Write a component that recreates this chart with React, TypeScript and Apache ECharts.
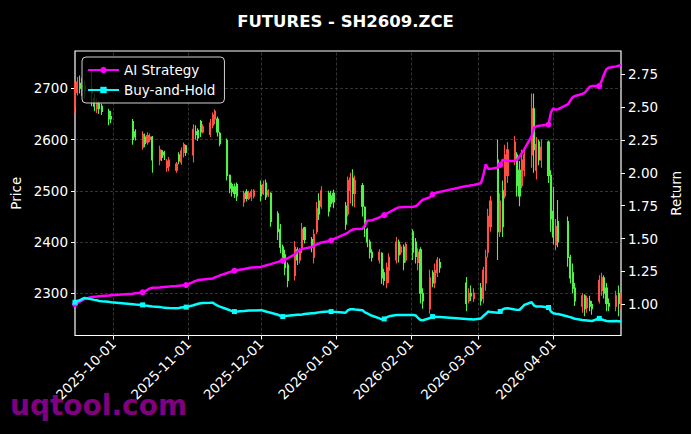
import React, { useEffect, useRef } from "react";
import * as echarts from "echarts";

// ---- trading calendar (day numbers per month) ----
const SEP_2025 = [15, 16, 17, 18, 19, 22, 23, 24, 25, 26, 29, 30];
const OCT_2025 = [9, 10, 13, 14, 15, 16, 17, 20, 21, 22, 23, 24, 27, 28, 29, 30, 31];
const NOV_2025 = [3, 4, 5, 6, 7, 10, 11, 12, 13, 14, 17, 18, 19, 20, 21, 24, 25, 26, 27, 28];
const DEC_2025 = [1, 2, 3, 4, 5, 8, 9, 10, 11, 12, 15, 16, 17, 18, 19, 22, 23, 24, 25, 26, 29, 30, 31];
const JAN_2026 = [5, 6, 7, 8, 9, 12, 13, 14, 15, 16, 19, 20, 21, 22, 23, 26, 27, 28, 29, 30];
const FEB_2026 = [2, 3, 4, 5, 6, 9, 10, 11, 12, 13, 24, 25, 26, 27];
const MAR_2026 = [2, 3, 4, 5, 6, 9, 10, 11, 12, 13, 16, 17, 18, 19, 20, 23, 24, 25, 26, 27, 30, 31];
const APR_2026 = [1, 2, 3, 7, 8, 9, 10, 13, 14, 15, 16, 17, 20, 21, 22, 23, 24, 27, 28, 29];

// ---- OHLC ----
const OPEN = [
  2665, 2692, 2710, 2700, 2705, 2700, 2680, 2660, 2670, 2665, 2655, 2645,
  2635, 2615, 2585, 2605, 2595, 2600, 2605, 2560, 2578, 2575, 2545, 2548, 2540, 2570, 2556, 2575, 2588,
  2570, 2615, 2618, 2635, 2615, 2610, 2628, 2640, 2640, 2612, 2598, 2530, 2512, 2508, 2512, 2478, 2498, 2485, 2488, 2490,
  2510, 2495, 2515, 2492, 2495, 2455, 2425, 2390, 2375, 2355, 2335, 2385, 2365, 2385, 2428, 2405, 2370, 2420, 2480, 2470, 2495, 2490, 2495,
  2470, 2455, 2500, 2525, 2495, 2510, 2468, 2425, 2400, 2380, 2365, 2378, 2340, 2320, 2345, 2365, 2400, 2380, 2390, 2365,
  2420, 2400, 2360, 2385, 2300, 2270, 2340, 2320, 2340, 2360, 2320, 2285, 2300, 2290,
  2310, 2290, 2320, 2380, 2430, 2560, 2420, 2500, 2490, 2530, 2560, 2570, 2540, 2510, 2540, 2570, 2660, 2540, 2595, 2560, 2595, 2530,
  2460, 2395, 2440, 2440, 2370, 2340, 2310, 2275, 2295, 2272, 2285, 2278, 2285, 2305, 2330, 2310, 2280, 2275, 2300, 2280,
];
const CLOSE = [
  2700, 2712, 2700, 2705, 2695, 2690, 2665, 2672, 2660, 2655, 2640, 2640,
  2600, 2605, 2610, 2592, 2608, 2605, 2560, 2580, 2565, 2570, 2558, 2560, 2552, 2558, 2578, 2590, 2575,
  2620, 2610, 2603, 2615, 2625, 2632, 2648, 2655, 2615, 2592, 2530, 2505, 2498, 2495, 2490, 2495, 2485, 2495, 2498, 2500,
  2490, 2512, 2488, 2500, 2440, 2420, 2390, 2365, 2350, 2325, 2390, 2365, 2382, 2425, 2405, 2390, 2415, 2465, 2455, 2500, 2460, 2475, 2478,
  2435, 2520, 2525, 2495, 2520, 2470, 2430, 2400, 2380, 2370, 2380, 2330, 2325, 2350, 2370, 2400, 2375, 2390, 2360, 2395,
  2380, 2372, 2380, 2300, 2285, 2330, 2320, 2345, 2365, 2350, 2280, 2300, 2295, 2300,
  2285, 2345, 2370, 2450, 2480, 2420, 2480, 2430, 2570, 2580, 2595, 2510, 2490, 2560, 2570, 2660, 2580, 2590, 2560, 2585, 2530, 2445,
  2410, 2430, 2400, 2370, 2330, 2310, 2285, 2295, 2270, 2290, 2275, 2270, 2325, 2330, 2300, 2280, 2275, 2295, 2280, 2290,
];
const LOW = [
  2652, 2686, 2690, 2685, 2680, 2665, 2655, 2652, 2650, 2648, 2628, 2632,
  2590, 2598, 2580, 2585, 2590, 2595, 2535, 2550, 2558, 2560, 2537, 2538, 2535, 2552, 2551, 2565, 2568,
  2555, 2600, 2597, 2605, 2612, 2605, 2622, 2630, 2606, 2587, 2520, 2495, 2489, 2486, 2480, 2469, 2479, 2482, 2480, 2485,
  2479, 2492, 2482, 2488, 2430, 2404, 2378, 2358, 2335, 2312, 2325, 2355, 2358, 2378, 2397, 2380, 2358, 2415, 2443, 2465, 2450, 2468, 2466,
  2424, 2450, 2475, 2470, 2468, 2450, 2410, 2390, 2368, 2362, 2358, 2318, 2315, 2310, 2320, 2358, 2360, 2375, 2345, 2360,
  2365, 2358, 2345, 2280, 2270, 2260, 2312, 2310, 2332, 2340, 2265, 2280, 2285, 2283,
  2276, 2280, 2305, 2370, 2420, 2365, 2410, 2410, 2485, 2515, 2550, 2489, 2470, 2505, 2528, 2545, 2535, 2522, 2550, 2545, 2515, 2420,
  2395, 2384, 2390, 2352, 2319, 2300, 2275, 2262, 2255, 2262, 2265, 2258, 2280, 2295, 2290, 2265, 2265, 2265, 2255, 2270,
];
const HIGH = [
  2714, 2722, 2725, 2720, 2715, 2735, 2690, 2680, 2675, 2670, 2660, 2656,
  2640, 2620, 2616, 2612, 2614, 2612, 2607, 2588, 2580, 2578, 2562, 2566, 2556, 2575, 2585, 2594, 2590,
  2630, 2628, 2622, 2638, 2630, 2640, 2653, 2659, 2645, 2615, 2602, 2532, 2516, 2514, 2516, 2500, 2503, 2500, 2503, 2503,
  2520, 2520, 2522, 2503, 2497, 2460, 2435, 2395, 2385, 2360, 2402, 2390, 2388, 2437, 2430, 2410, 2425, 2478, 2495, 2509, 2500, 2500, 2502,
  2478, 2528, 2535, 2542, 2530, 2515, 2470, 2428, 2405, 2386, 2386, 2380, 2348, 2360, 2378, 2410, 2405, 2395, 2395, 2400,
  2425, 2408, 2388, 2390, 2310, 2346, 2345, 2358, 2371, 2368, 2332, 2310, 2315, 2310,
  2320, 2352, 2385, 2465, 2490, 2600, 2495, 2520, 2590, 2595, 2607, 2575, 2558, 2580, 2580, 2690, 2690, 2605, 2600, 2600, 2598, 2540,
  2508, 2445, 2482, 2450, 2375, 2358, 2320, 2300, 2298, 2295, 2295, 2285, 2335, 2340, 2335, 2320, 2290, 2305, 2315, 2300,
];

// ---- strategy curves (right axis) ----
const AI_STRATEGY = [
  1.0, 1.01, 1.02, 1.03, 1.04, 1.055, 1.057, 1.058, 1.06, 1.062, 1.066, 1.068,
  1.08, 1.083, 1.09, 1.1, 1.11, 1.12, 1.125, 1.128, 1.13, 1.132, 1.133, 1.134, 1.138, 1.14, 1.142, 1.144, 1.146,
  1.17, 1.178, 1.184, 1.186, 1.188, 1.194, 1.196, 1.205, 1.212, 1.22, 1.238, 1.244, 1.25, 1.255, 1.258, 1.268, 1.272, 1.276, 1.279, 1.28,
  1.284, 1.29, 1.295, 1.3, 1.305, 1.322, 1.328, 1.332, 1.34, 1.35, 1.38, 1.4, 1.412, 1.42, 1.425, 1.435, 1.445, 1.455, 1.462, 1.47, 1.48, 1.485, 1.495,
  1.535, 1.545, 1.56, 1.568, 1.572, 1.575, 1.6, 1.635, 1.638, 1.64, 1.66, 1.67, 1.678, 1.69, 1.7, 1.73, 1.737, 1.738, 1.739, 1.74,
  1.742, 1.745, 1.76, 1.78, 1.795, 1.815, 1.835, 1.845, 1.85, 1.855, 1.9, 1.902, 1.905, 1.908,
  1.92, 1.98, 2.065, 2.03, 2.03, 2.04, 2.06, 2.1, 2.095, 2.09, 2.09, 2.1, 2.125, 2.15, 2.18, 2.28, 2.345, 2.354, 2.358, 2.36, 2.367, 2.46,
  2.49, 2.48, 2.485, 2.52, 2.55, 2.575, 2.585, 2.6, 2.61, 2.63, 2.655, 2.66, 2.66, 2.7, 2.75, 2.79, 2.8, 2.81, 2.815, 2.818,
];
const BUY_AND_HOLD = [
  1.015, 1.025, 1.03, 1.04, 1.048, 1.037, 1.033, 1.03, 1.025, 1.022, 1.018, 1.015,
  1.0, 0.998, 0.995, 0.99, 0.988, 0.985, 0.982, 0.978, 0.976, 0.974, 0.972, 0.971, 0.97, 0.972, 0.975, 0.977, 0.978,
  0.992, 0.998, 1.004, 1.008, 1.009, 1.011, 1.012, 1.0, 0.99, 0.982, 0.962, 0.955, 0.948, 0.944, 0.945, 0.948, 0.95, 0.952, 0.952, 0.953,
  0.955, 0.95, 0.945, 0.94, 0.935, 0.92, 0.912, 0.906, 0.91, 0.912, 0.918, 0.92, 0.92, 0.922, 0.925, 0.932, 0.932, 0.935, 0.938, 0.94, 0.944, 0.944, 0.942,
  0.935, 0.955, 0.962, 0.962, 0.96, 0.955, 0.938, 0.93, 0.92, 0.912, 0.892, 0.885, 0.888, 0.9, 0.908, 0.918, 0.918, 0.918, 0.918, 0.918,
  0.918, 0.915, 0.895, 0.88, 0.878, 0.895, 0.906, 0.904, 0.903, 0.902, 0.888, 0.886, 0.885, 0.883,
  0.892, 0.91, 0.925, 0.944, 0.94, 0.935, 0.945, 0.96, 0.968, 0.97, 0.96, 0.957, 0.958, 0.975, 0.995, 1.015, 0.99, 0.982, 0.982, 0.982, 0.975, 0.945,
  0.932, 0.928, 0.925, 0.906, 0.902, 0.895, 0.89, 0.88, 0.878, 0.876, 0.874, 0.872, 0.892, 0.885, 0.878, 0.872, 0.87, 0.872, 0.87, 0.868,
];

// ---- ticks ----
const MONTH_TICKS: [number, number][] = [
  [2025, 10], [2025, 11], [2025, 12], [2026, 1], [2026, 2], [2026, 3], [2026, 4],
];
const PRICE_TICKS = [2300, 2400, 2500, 2600, 2700];
const RETURN_TICKS = [1.0, 1.25, 1.5, 1.75, 2.0, 2.25, 2.5, 2.75];

const TITLE = "FUTURES - SH2609.ZCE";
const MARK_EVERY = 14;

const toTime = (y: number, m: number, d: number) => new Date(y, m - 1, d).getTime();
const MONTH_GROUPS: [number, number, number[]][] = [
  [2025, 9, SEP_2025], [2025, 10, OCT_2025], [2025, 11, NOV_2025], [2025, 12, DEC_2025],
  [2026, 1, JAN_2026], [2026, 2, FEB_2026], [2026, 3, MAR_2026], [2026, 4, APR_2026],
];
const DATES = MONTH_GROUPS.flatMap(([y, m, days]) => days.map((d) => toTime(y, m, d)));

const UP = "#ff4f45";
const DOWN = "#52f04a";
const FONT = "DejaVu Sans";
const GRID_LINE = { color: "#555", width: 0.6, type: [3, 2] };
const pad = (n: number) => (n < 10 ? "0" + n : "" + n);
const fmtDate = (v: number) => {
  const d = new Date(v);
  return `${d.getFullYear()}-${pad(d.getMonth() + 1)}-${pad(d.getDate())}`;
};

export default function App() {
  const ref = useRef<HTMLDivElement>(null);
  useEffect(() => {
    document.body.style.margin = "0";
    document.body.style.background = "#000";
    if (!ref.current) return;
    const chart = echarts.init(ref.current, undefined, { renderer: "svg" });
    const monthTicks = MONTH_TICKS.map(([y, m]) => toTime(y, m, 1));
    const lineData = (vals: number[], symbol: string, size: number) =>
      DATES.map((t, i) =>
        i % MARK_EVERY === 0
          ? { value: [t, vals[i]], symbol, symbolSize: size }
          : { value: [t, vals[i]], symbol: "none" }
      );
    const option: any = {
      animation: false,
      backgroundColor: "#000",
      textStyle: { fontFamily: FONT },
      title: {
        text: TITLE,
        left: "center",
        top: 8,
        textStyle: { color: "#fff", fontSize: 16.5, fontWeight: "bold", fontFamily: FONT },
      },
      legend: {
        orient: "vertical",
        left: 82,
        top: 57,
        data: ["AI Strategy", "Buy-and-Hold"],
        backgroundColor: "rgba(0,0,0,0.8)",
        borderColor: "#d0d0d0",
        borderWidth: 1,
        borderRadius: 4,
        padding: [6, 9, 6, 5],
        itemWidth: 31,
        itemHeight: 8,
        itemGap: 6,
        textStyle: { color: "#fff", fontSize: 13.5, fontFamily: FONT },
      },
      grid: {
        left: 75,
        right: 70,
        top: 51,
        bottom: 98.5,
        show: true,
        borderColor: "#fff",
        borderWidth: 1.2,
        backgroundColor: "transparent",
      },
      xAxis: {
        type: "value",
        min: DATES[0],
        max: DATES[DATES.length - 1],
        scale: true,
        axisLine: { show: false },
        axisTick: { show: true, length: 4, lineStyle: { color: "#fff" }, customValues: monthTicks },
        axisLabel: {
          color: "#fff",
          fontSize: 13.5,
          fontFamily: FONT,
          rotate: 45,
          margin: 6,
          customValues: monthTicks,
          formatter: (v: number) => fmtDate(v),
        },
        splitLine: { show: false },
      },
      yAxis: [
        {
          type: "value",
          position: "left",
          min: 2217.6,
          max: 2772.8,
          splitNumber: 5,
          name: "Price",
          nameLocation: "middle",
          nameGap: 51,
          nameTextStyle: { color: "#fff", fontSize: 13.5, fontFamily: FONT },
          axisLine: { show: false },
          axisTick: { show: true, length: 4, lineStyle: { color: "#fff" }, customValues: PRICE_TICKS },
          axisLabel: {
            color: "#fff",
            fontSize: 13.5,
            fontFamily: FONT,
            margin: 7,
            customValues: PRICE_TICKS,
            formatter: (v: number) => String(v),
          },
          splitLine: { show: true, lineStyle: GRID_LINE },
        },
        {
          type: "value",
          position: "right",
          min: 0.762,
          max: 2.927,
          name: "Return",
          nameLocation: "middle",
          nameGap: 46,
          nameTextStyle: { color: "#fff", fontSize: 13.5, fontFamily: FONT },
          axisLine: { show: false },
          axisTick: { show: true, length: 4, lineStyle: { color: "#fff" }, customValues: RETURN_TICKS },
          axisLabel: {
            color: "#fff",
            fontSize: 13.5,
            fontFamily: FONT,
            margin: 7,
            customValues: RETURN_TICKS,
            formatter: (v: number) => v.toFixed(2),
          },
          splitLine: { show: false },
        },
      ],
      series: [
        {
          type: "candlestick",
          name: "Price",
          xAxisIndex: 0,
          yAxisIndex: 0,
          encode: { x: 0, y: [1, 2, 3, 4] },
          data: DATES.map((t, i) => [t, OPEN[i], CLOSE[i], LOW[i], HIGH[i]]),
          barWidth: 1.6,
          itemStyle: { color: UP, color0: DOWN, borderColor: UP, borderColor0: DOWN, borderWidth: 1.1 },
          markLine: {
            silent: true,
            symbol: "none",
            label: { show: false },
            lineStyle: GRID_LINE,
            data: monthTicks.map((t) => ({ xAxis: t })),
            z: 1,
          },
          z: 2,
        },
        {
          type: "line",
          name: "AI Strategy",
          xAxisIndex: 0,
          yAxisIndex: 1,
          data: lineData(AI_STRATEGY, "circle", 6),
          symbol: "circle",
          symbolSize: 6,
          showSymbol: true,
          lineStyle: { color: "#ff00ff", width: 2.5 },
          itemStyle: { color: "#ff00ff" },
          z: 3,
        },
        {
          type: "line",
          name: "Buy-and-Hold",
          xAxisIndex: 0,
          yAxisIndex: 1,
          data: lineData(BUY_AND_HOLD, "rect", 5),
          symbol: "rect",
          symbolSize: 5,
          showSymbol: true,
          lineStyle: { color: "#00ffff", width: 2.5 },
          itemStyle: { color: "#00ffff" },
          z: 4,
        },
      ],
      graphic: [
        {
          type: "text",
          left: 10,
          top: 391,
          z: 0,
          style: { text: "uqtool.com", fill: "#800080", font: `bold 28px "${FONT}"` },
        },
      ],
    };
    chart.setOption(option);
    return () => chart.dispose();
  }, []);
  return (
    <div
      ref={ref}
      style={{ position: "fixed", left: 0, top: 0, width: 691, height: 434 }}
    />
  );
}
